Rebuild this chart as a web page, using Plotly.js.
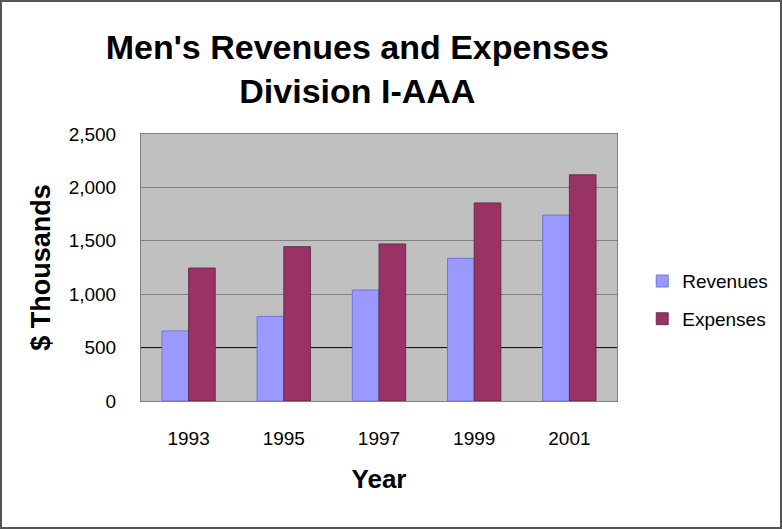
<!DOCTYPE html>
<html>
<head>
<meta charset="utf-8">
<script src="https://cdn.plot.ly/plotly-3.0.1.min.js"></script>
<style>
  html, body { margin: 0; padding: 0; background: #fff; }
  #chart { width: 782px; height: 529px; }
  #frame { position: absolute; left: 0; top: 0; width: 782px; height: 529px; box-sizing: border-box; border: 2px solid #555; pointer-events: none; }
</style>
</head>
<body>
<div id="chart"></div>
<div id="frame"></div>
<script>
const years = ['1993', '1995', '1997', '1999', '2001'];
const revenues = [656, 792, 1039, 1336, 1740];
const expenses = [1245, 1445, 1471, 1855, 2118];
const seriesNames = ['Revenues', 'Expenses'];
const yTicks = [0, 500, 1000, 1500, 2000, 2500];

const FONT = 'Liberation Sans, Arial, sans-serif';

const traces = [
  {
    type: 'bar', name: seriesNames[0], x: years, y: revenues,
    legendgroup: 'r',
    marker: { color: '#9999FF', line: { color: '#7373d9', width: 1 } }
  },
  {
    type: 'bar', name: seriesNames[1], x: years, y: expenses,
    legendgroup: 'e',
    marker: { color: '#993366', line: { color: '#5a1e3c', width: 0.8 } }
  }
];

const yMin = yTicks[0], yMax = yTicks[yTicks.length - 1], darkLine = yTicks[1];
const grayGrid = yTicks.filter(v => v !== darkLine && v !== yMin);

const layout = {
  width: 782, height: 529,
  margin: { l: 141, r: 165, t: 134, b: 128, pad: 0, autoexpand: false },
  paper_bgcolor: '#ffffff',
  plot_bgcolor: '#C0C0C0',
  font: { family: FONT, color: '#000' },
  barmode: 'group',
  bargap: 0.44,
  bargroupgap: 0,
  showlegend: true,
  title: {
    text: "Men's Revenues and Expenses<br>Division I-AAA",
    font: { family: FONT, size: 34, color: '#000', weight: 'bold' },
    xref: 'container', x: 0.457, xanchor: 'center',
    yref: 'container', y: 0.889, yanchor: 'top'
  },
  xaxis: {
    type: 'category',
    showgrid: false,
    showline: true, linecolor: '#808080', linewidth: 1, mirror: true,
    ticks: '',
    ticklabelstandoff: 20,
    tickfont: { family: FONT, size: 19, color: '#000' },
    title: { text: 'Year', font: { family: FONT, size: 26, color: '#000', weight: 'bold' }, standoff: 22 }
  },
  yaxis: {
    range: [yMin, yMax],
    tickvals: yTicks,
    tickformat: ',d',
    separatethousands: true,
    showgrid: false,
    minor: { tickmode: 'array', tickvals: grayGrid, showgrid: true, gridcolor: '#808080', gridwidth: 1, ticks: '' },
    zeroline: false,
    showline: true, linecolor: '#808080', linewidth: 1, mirror: true,
    ticks: '',
    ticklabelstandoff: 20,
    tickfont: { family: FONT, size: 19, color: '#000' },
    title: { text: '$ Thousands', font: { family: FONT, size: 27, color: '#000', weight: 'bold' }, standoff: 10 }
  },
  legend: {
    x: 1.053, xanchor: 'left', y: 0.52, yanchor: 'top',
    font: { family: FONT, size: 19, color: '#000' },
    bgcolor: 'rgba(0,0,0,0)',
    tracegroupgap: 10,
    traceorder: 'grouped'
  },
  shapes: [
    { type: 'line', xref: 'paper', x0: 0, x1: 1, yref: 'y', y0: darkLine, y1: darkLine,
      line: { color: '#000', width: 1 }, layer: 'below' }
  ]
};

Plotly.newPlot('chart', traces, layout, { displayModeBar: false, staticPlot: true });
</script>
</body>
</html>
